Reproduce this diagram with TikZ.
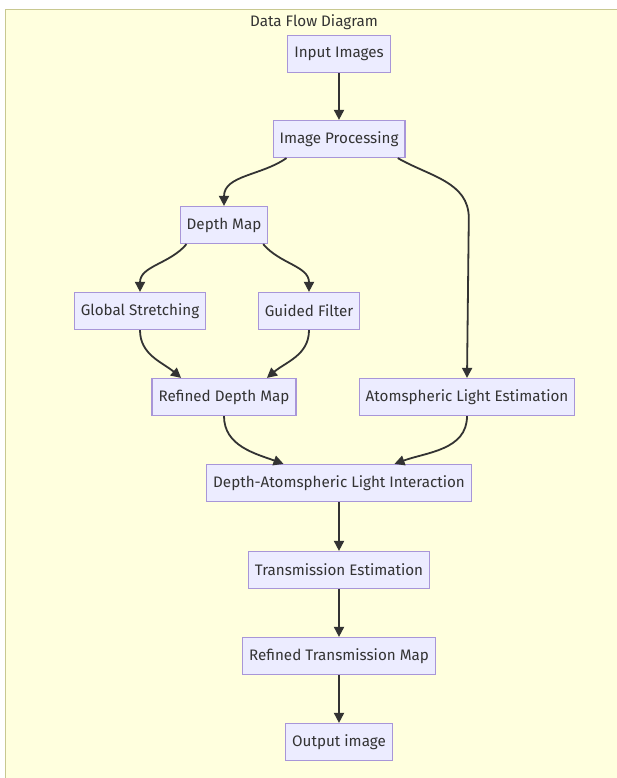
\documentclass[tikz,border=0pt]{standalone}
\usepackage{fontspec}
\setmainfont{Fira Sans}
\usetikzlibrary{positioning, calc, arrows.meta}
\definecolor{nodefill}{HTML}{ECECFF}
\definecolor{nodeline}{HTML}{A896D8}
\definecolor{bgfill}{HTML}{FFFFDE}
\definecolor{bgline}{HTML}{C8C890}
\definecolor{ink}{HTML}{333333}

\begin{document}
\begin{tikzpicture}[x=1pt,y=-1pt, font=\fontsize{15.2}{17}\selectfont, text=ink, proc/.style={shape=rectangle, draw=nodeline, fill=nodefill, line width=1.2pt, minimum height=37pt, inner xsep=6.5pt}, flow/.style={draw=ink, line width=1.8pt, -{Triangle[length=10pt,width=10pt]}}]
\useasboundingbox (0,0) rectangle (617,778);
\fill[bgfill] (5,10) rectangle (617,778);
\draw[bgline, line width=1pt] (5,778) -- (5,10) -- (617,10);
\node (title) at (314,22) {Data Flow Diagram};

\node[proc] (in) at (339,54) {Input Images};
\node[proc] (ip) at (339,139) {Image Processing};
\node[proc] (dm) at (224,225) {Depth Map};
\node[proc] (gs) at (140,311) {Global Stretching};
\node[proc] (gf) at (309,311) {Guided Filter};
\node[proc] (rdm) at (224,397) {Refined Depth Map};
\node[proc] (ale) at (467,397) {Atomspheric Light Estimation};
\node[proc] (dali) at (339,483) {Depth-Atomspheric Light Interaction};
\node[proc] (te) at (339,570) {Transmission Estimation};
\node[proc] (rtm) at (339,656) {Refined Transmission Map};
\node[proc] (out) at (339,742) {Output image};

\foreach \a/\b in {in/ip, dali/te, te/rtm, rtm/out}
	\draw[flow] (\a.south) -- (\b.north);

\draw[flow] (ip.200) to[out=215, in=90] (dm.north);
\draw[flow] (ip.-18) to[out=-30, in=90] ++(71,60) -- (ale.north);
\draw[flow] (dm.207) to[out=230, in=90] (gs.north);
\draw[flow] (dm.-26) to[out=-50, in=90] (gf.north);
\draw[flow] (gs.south) to[out=-90, in=140] (rdm.156);
\draw[flow] (gf.south) to[out=-90, in=40] (rdm.24);
\draw[flow] (rdm.south) to[out=-90, in=160] (dali.161);
\draw[flow] (ale.south) to[out=-90, in=20] (dali.19);
\end{tikzpicture}
\end{document}
